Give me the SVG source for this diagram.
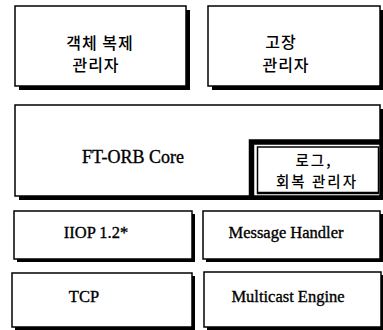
<svg xmlns="http://www.w3.org/2000/svg" width="383" height="330" viewBox="0 0 383 330">
<style>
.bg{fill:#fff}
.sh{fill:#000}
.bx{fill:#fff;stroke:#000;stroke-width:1.5}
.kr{font-family:"Noto Sans CJK KR","Noto Sans",sans-serif;font-size:16px;font-weight:500;fill:#000;text-anchor:middle;letter-spacing:1px}
.sm{font-size:14.5px;letter-spacing:2px}
.en{font-family:"Liberation Serif","Times New Roman",serif;font-size:16.5px;fill:#000;stroke:#000;stroke-width:0.35;text-anchor:middle}
</style>
<rect class="bg" x="0" y="0" width="383" height="330"/>
<g id="replica-manager">
<rect class="sh" x="19" y="10" width="171" height="80"/>
<rect class="bx" x="15" y="6" width="171" height="80"/>
<text class="kr" x="100" y="49">객체 복제</text>
<text class="kr" x="96" y="71">관리자</text>
</g>
<g id="fault-manager">
<rect class="sh" x="212" y="10" width="172" height="80"/>
<rect class="bx" x="208" y="6" width="172" height="80"/>
<text class="kr" x="281" y="48">고장</text>
<text class="kr" x="286" y="71">관리자</text>
</g>
<g id="ft-orb-core">
<rect class="sh" x="19" y="109" width="365" height="91"/>
<rect class="bx" x="15" y="105" width="365" height="91"/>
<text class="en" x="133" y="163" style="font-size:18px">FT-ORB Core</text>
</g>
<g id="log-recovery-manager">
<path d="M251.5 197 V142 H383" fill="none" stroke="#000" stroke-width="5.5"/>
<rect class="bx" x="257.5" y="147" width="121" height="46"/>
<line x1="257" y1="193" x2="379" y2="193" stroke="#000" stroke-width="2.5"/>
<text class="kr sm" x="314" y="166">로그,</text>
<text class="kr sm" x="317" y="187">회복 관리자</text>
</g>
<g id="iiop">
<rect class="sh" x="17" y="214" width="178" height="48"/>
<rect class="bx" x="14" y="211" width="178" height="48"/>
<text class="en" x="96" y="238">IIOP 1.2*</text>
</g>
<g id="message-handler">
<rect class="sh" x="206" y="214" width="177" height="48"/>
<rect class="bx" x="203" y="211" width="177" height="48"/>
<text class="en" x="286" y="238">Message Handler</text>
</g>
<g id="tcp">
<rect class="sh" x="15" y="276" width="180" height="54"/>
<rect class="bx" x="12" y="273" width="180" height="54"/>
<text class="en" x="84" y="302">TCP</text>
</g>
<g id="multicast-engine">
<rect class="sh" x="207" y="275" width="177" height="55"/>
<rect class="bx" x="204" y="272" width="177" height="55"/>
<text class="en" x="288" y="302">Multicast Engine</text>
</g>
<g id="connectors"></g>
</svg>
